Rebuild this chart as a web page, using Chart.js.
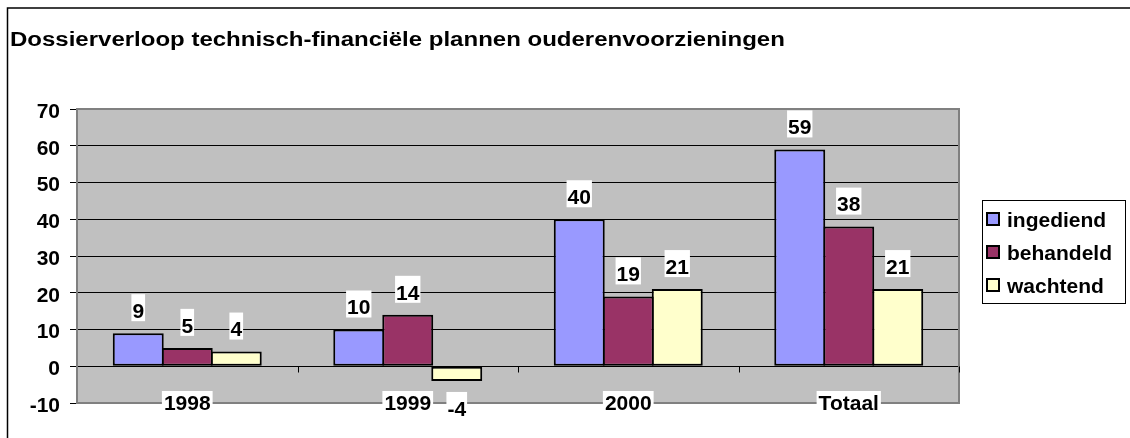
<!DOCTYPE html>
<html lang="nl">
<head>
<meta charset="UTF-8">
<title>Dossierverloop</title>
<script src="https://cdn.jsdelivr.net/npm/chart.js@4.4.1/dist/chart.umd.min.js"></script>
<style>
  body { margin: 0; background: #fff; }
  canvas { display: block; }
</style>
</head>
<body>
<canvas id="myChart" width="1130" height="438"></canvas>
<script>
// data
var categories = ['1998', '1999', '2000', 'Totaal'];
var ingediend = [9, 10, 40, 59];
var behandeld = [5, 14, 19, 38];
var wachtend = [4, -4, 21, 21];
var seriesNames = ['ingediend', 'behandeld', 'wachtend'];
var seriesColors = ['#9999ff', '#993366', '#ffffcc'];
var yMin = -10, yMax = 70, yStep = 10;
var titleText = 'Dossierverloop technisch-financiële plannen ouderenvoorzieningen';

var FONT = 'Arial, "Liberation Sans", sans-serif';
var LABEL_SIZE = 21;

// white page, outer frame, title, grey plot background, plot frame, ticks on the zero line
var backdropPlugin = {
    id: 'backdrop',
    beforeDraw: function (chart) {
        var ctx = chart.ctx, a = chart.chartArea;
        ctx.save();
        ctx.fillStyle = '#fff';
        ctx.fillRect(0, 0, chart.width, chart.height);
        ctx.strokeStyle = '#000';
        ctx.lineWidth = 1.5;
        ctx.strokeRect(7.5, 8, chart.width + 20, chart.height + 20);
        ctx.fillStyle = '#c0c0c0';
        ctx.fillRect(a.left, a.top, a.right - a.left, a.bottom - a.top);
        // title, the original lettering is a bit wide
        ctx.save();
        ctx.translate(10, 46);
        ctx.scale(1.2, 1);
        ctx.fillStyle = '#000';
        ctx.font = 'bold 20px ' + FONT;
        ctx.textBaseline = 'alphabetic';
        ctx.fillText(titleText, 0, 0);
        ctx.restore();
        ctx.restore();
    },
    beforeDatasetsDraw: function (chart) {
        var ctx = chart.ctx, a = chart.chartArea;
        var x = chart.scales.x, y = chart.scales.y;
        ctx.save();
        ctx.strokeStyle = '#808080';
        ctx.lineWidth = 2;
        ctx.strokeRect(a.left, a.top, a.right - a.left, a.bottom - a.top);
        // category tick marks on the zero line
        var y0 = Math.round(y.getPixelForValue(0)) + 0.5;
        ctx.strokeStyle = '#000';
        ctx.lineWidth = 1;
        ctx.beginPath();
        for (var i = 0; i < categories.length; i++) {
            var bx = i < categories.length - 1
                ? (x.getPixelForValue(i) + x.getPixelForValue(i + 1)) / 2
                : a.right;
            bx = Math.round(bx) + 0.5;
            ctx.moveTo(bx, y0);
            ctx.lineTo(bx, y0 + 6);
        }
        ctx.stroke();
        ctx.restore();
    }
};

// category names sit on the bottom frame, then value labels, both with white box
var valueLabels = {
    id: 'valueLabels',
    afterDatasetsDraw: function (chart) {
        var ctx = chart.ctx, a = chart.chartArea;
        var xs = chart.scales.x;
        ctx.save();
        ctx.font = 'bold ' + LABEL_SIZE + 'px ' + FONT;
        ctx.textAlign = 'center';
        ctx.textBaseline = 'middle';
        chart.data.labels.forEach(function (lab, j) {
            var px = xs.getPixelForValue(j);
            var w = ctx.measureText(lab).width;
            ctx.fillStyle = '#fff';
            ctx.fillRect(px - w / 2 - 2, a.bottom - 12, w + 4, 22);
            ctx.fillStyle = '#000';
            ctx.fillText(lab, px, a.bottom + 1);
        });
        chart.data.datasets.forEach(function (ds, i) {
            chart.getDatasetMeta(i).data.forEach(function (bar, j) {
                var v = ds.data[j];
                var txt = String(v);
                var cy = v >= 0 ? bar.y - 22 : bar.y + 28;
                var w = ctx.measureText(txt).width;
                ctx.fillStyle = '#fff';
                ctx.fillRect(bar.x - w / 2 - 1, cy - 17, w + 2, 27);
                ctx.fillStyle = '#000';
                ctx.fillText(txt, bar.x, cy + 1);
            });
        });
        ctx.restore();
    }
};

// boxed legend on the right
var boxLegend = {
    id: 'boxLegend',
    afterDraw: function (chart) {
        var ctx = chart.ctx, a = chart.chartArea;
        var lx = a.right + 23, ly = 200, lw = 143, lh = 103;
        ctx.save();
        ctx.fillStyle = '#fff';
        ctx.fillRect(lx, ly, lw, lh);
        ctx.strokeStyle = '#000';
        ctx.lineWidth = 1;
        ctx.strokeRect(lx + 0.5, ly + 0.5, lw, lh);
        ctx.font = 'bold ' + LABEL_SIZE + 'px ' + FONT;
        ctx.textBaseline = 'middle';
        chart.data.datasets.forEach(function (ds, i) {
            var top = ly + 13 + i * 33;
            ctx.fillStyle = ds.backgroundColor;
            ctx.fillRect(lx + 5, top, 12, 12);
            ctx.lineWidth = 2;
            ctx.strokeStyle = '#000';
            ctx.strokeRect(lx + 5, top, 12, 12);
            ctx.fillStyle = '#000';
            ctx.fillText(ds.label, lx + 25, top + 8);
        });
        ctx.restore();
    }
};

var seriesData = [ingediend, behandeld, wachtend];
var datasets = seriesNames.map(function (name, i) {
    return {
        label: name,
        data: seriesData[i],
        backgroundColor: seriesColors[i],
        borderColor: '#000',
        borderWidth: 2,
        borderSkipped: false,
        categoryPercentage: 0.6667,
        barPercentage: 1.04
    };
});

var ctx = document.getElementById('myChart').getContext('2d');
var barChart = new Chart(ctx, {
    type: 'bar',
    data: {
        labels: categories,
        datasets: datasets
    },
    options: {
        responsive: false,
        animation: false,
        devicePixelRatio: 1,
        layout: { padding: { left: 11, right: 171, top: 109, bottom: 0 } },
        plugins: {
            legend: { display: false },
            tooltip: { enabled: false },
            title: { display: false }
        },
        scales: {
            x: {
                grid: { display: false },
                border: { display: false },
                ticks: { display: false },
                afterFit: function (scale) { scale.height = 35; }
            },
            y: {
                min: yMin,
                max: yMax,
                grid: {
                    color: '#000',
                    lineWidth: 1,
                    drawTicks: true,
                    tickLength: 7,
                    tickColor: '#000'
                },
                border: { display: false },
                ticks: {
                    stepSize: yStep,
                    color: '#000',
                    padding: 10,
                    labelOffset: 3,
                    font: { family: FONT, size: LABEL_SIZE, weight: 'bold' }
                },
                afterFit: function (scale) { scale.width = 66; }
            }
        }
    },
    plugins: [backdropPlugin, valueLabels, boxLegend]
});
</script>
</body>
</html>
